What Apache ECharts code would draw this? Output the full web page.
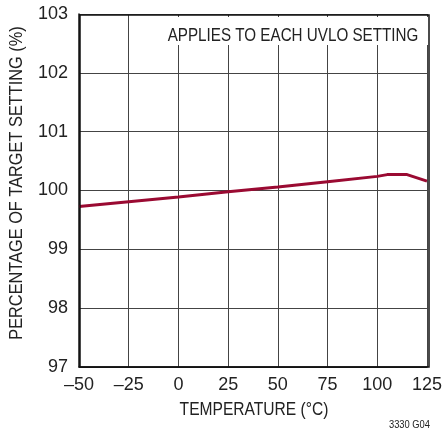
<!DOCTYPE html>
<html>
<head>
<meta charset="utf-8">
<script src="https://cdn.jsdelivr.net/npm/echarts@6/dist/echarts.min.js"></script>
<style>
  html, body { margin: 0; padding: 0; background: #fff; }
  #chart { width: 445px; height: 436px; }
</style>
</head>
<body>
<div id="chart"></div>
<script>
// Threshold accuracy vs temperature
const temperatures = [-50, -25, 0, 25, 50, 75, 100, 105, 115, 125];
const percentOfTarget = [99.73, 99.81, 99.89, 99.98, 100.06, 100.15, 100.24, 100.27, 100.27, 100.16];
const xTicks = [-50, -25, 0, 25, 50, 75, 100, 125];
const yTicks = [97, 98, 99, 100, 101, 102, 103];

const FONT = '"Liberation Sans", Arial, sans-serif';
const INK = '#222';
const chart = echarts.init(document.getElementById('chart'));

chart.setOption({
  animation: false,
  grid: { left: 79, right: 15, top: 14, bottom: 69, containLabel: false },
  xAxis: {
    type: 'value',
    min: xTicks[0], max: xTicks[xTicks.length - 1], interval: 25,
    axisLine: { show: true, onZero: false, lineStyle: { color: '#111', width: 1.5 } },
    axisTick: { show: false },
    splitLine: { show: true, lineStyle: { color: '#444', width: 1 } },
    axisLabel: {
      fontFamily: FONT, fontSize: 18, color: INK, margin: 9,
      formatter: v => String(v).replace('-', '\u2013')
    }
  },
  yAxis: {
    type: 'value',
    min: yTicks[0], max: yTicks[yTicks.length - 1], interval: 1,
    axisLine: { show: true, onZero: false, lineStyle: { color: '#111', width: 1.5 } },
    axisTick: { show: false },
    splitLine: { show: true, lineStyle: { color: '#444', width: 1 } },
    axisLabel: { fontFamily: FONT, fontSize: 18, color: INK, margin: 11 }
  },
  graphic: [
    {
      type: 'rect', z: 10,
      shape: { x: 80, y: 15, width: 349, height: 352 },
      style: { fill: 'none', stroke: '#111', lineWidth: 1.5 }
    },
    {
      type: 'rect', z: 5,
      shape: { x: 163, y: 17, width: 266, height: 28 },
      style: { fill: '#fff' }
    },
    {
      type: 'text', z: 6, x: 293, y: 36, scaleX: 0.8,
      style: { text: 'APPLIES TO EACH UVLO SETTING', font: '19px ' + FONT, fill: INK, align: 'center', verticalAlign: 'middle' }
    },
    {
      type: 'text', x: 254, y: 410, scaleX: 0.82,
      style: { text: 'TEMPERATURE (°C)', font: '19px ' + FONT, fill: INK, align: 'center', verticalAlign: 'middle' }
    },
    {
      type: 'text', x: 17, y: 183, rotation: Math.PI / 2, scaleX: 0.86,
      style: { text: 'PERCENTAGE OF TARGET SETTING (%)', font: '19px ' + FONT, fill: INK, align: 'center', verticalAlign: 'middle' }
    },
    {
      type: 'text', x: 430, y: 425, scaleX: 0.85,
      style: { text: '3330 G04', font: '11px ' + FONT, fill: INK, align: 'right', verticalAlign: 'middle' }
    }
  ],
  series: [{
    type: 'line',
    data: temperatures.map((t, i) => [t, percentOfTarget[i]]),
    showSymbol: false,
    lineStyle: { color: '#9a0a32', width: 3 },
    z: 3
  }]
});
</script>
</body>
</html>
